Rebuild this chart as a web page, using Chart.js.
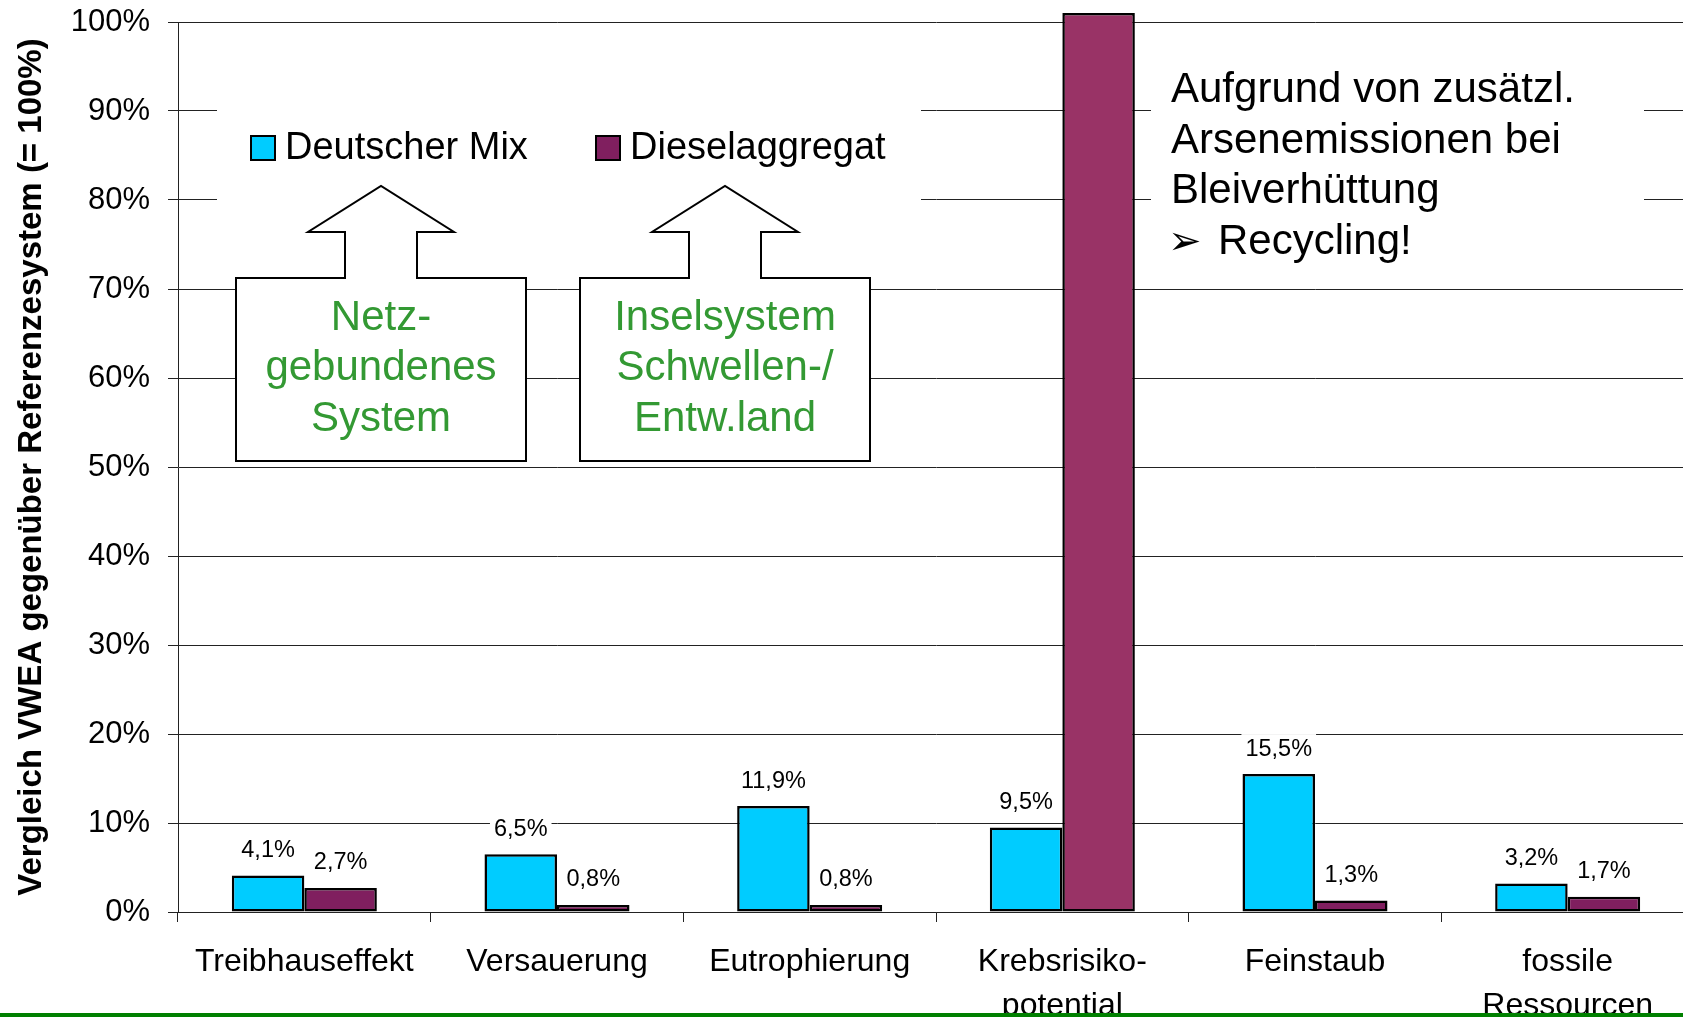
<!DOCTYPE html>
<html>
<head>
<meta charset="utf-8">
<script src="https://cdn.jsdelivr.net/npm/chart.js@4.4.1/dist/chart.umd.min.js"></script>
<style>
html, body { margin: 0; padding: 0; background: #fff; overflow: hidden; }
#wrap { width: 1694px; height: 1017px; }
</style>
</head>
<body>
<div id="wrap"><canvas id="vwea" width="1694" height="1017"></canvas></div>
<script>
// Daten
var kategorien = [['Treibhauseffekt'], ['Versauerung'], ['Eutrophierung'], ['Krebsrisiko-', 'potential'], ['Feinstaub'], ['fossile', 'Ressourcen']];
var deutscherMix = [4.1, 6.5, 11.9, 9.5, 15.5, 3.2];
var dieselaggregat = [2.7, 0.8, 0.8, 101, 1.3, 1.7];
var yTickStep = 10;
var yMax = 100;

var FONT = '"Liberation Sans", Arial, Helvetica, sans-serif';
var BLAU = '#00CCFF';
var LILA = '#801F5F';
var LILA_HELL = '#993366';

function prozent(v) {
	return v.toFixed(1).replace('.', ',') + '%';
}

// callout box with arrow pointing up to the legend
function pfeilBox(ctx, cx, zeilen) {
	var top = 278, bottom = 461, kopf = 232, spitze = 186;
	ctx.beginPath();
	ctx.moveTo(cx - 145, top);
	ctx.lineTo(cx - 36, top);
	ctx.lineTo(cx - 36, kopf);
	ctx.lineTo(cx - 73, kopf);
	ctx.lineTo(cx, spitze);
	ctx.lineTo(cx + 73, kopf);
	ctx.lineTo(cx + 36, kopf);
	ctx.lineTo(cx + 36, top);
	ctx.lineTo(cx + 145, top);
	ctx.lineTo(cx + 145, bottom);
	ctx.lineTo(cx - 145, bottom);
	ctx.closePath();
	ctx.fillStyle = '#fff';
	ctx.fill();
	ctx.lineWidth = 2;
	ctx.strokeStyle = '#000';
	ctx.stroke();
	ctx.fillStyle = '#339933';
	ctx.font = '42px ' + FONT;
	ctx.textAlign = 'center';
	ctx.textBaseline = 'middle';
	for (var i = 0; i < zeilen.length; i++) {
		ctx.fillText(zeilen[i], cx, 318 + i * 50.5);
	}
}

var extras = {
	id: 'extras',
	beforeDatasetsDraw: function(chart) {
		var ctx = chart.ctx;
		ctx.save();
		// white boxes behind legend and note
		ctx.fillStyle = '#fff';
		ctx.fillRect(217, 95, 704, 120);
		ctx.fillRect(1151, 40, 493, 230);

		// legend
		var lx = [251, 596];
		ctx.font = '38px ' + FONT;
		ctx.textAlign = 'left';
		ctx.textBaseline = 'middle';
		chart.data.datasets.forEach(function(ds, i) {
			ctx.fillStyle = ds.legendColor;
			ctx.fillRect(lx[i], 136, 24, 24);
			ctx.lineWidth = 2;
			ctx.strokeStyle = '#000';
			ctx.strokeRect(lx[i], 136, 24, 24);
			ctx.fillStyle = '#000';
			ctx.fillText(ds.label, lx[i] + 34, 149);
		});

		pfeilBox(ctx, 381, ['Netz-', 'gebundenes', 'System']);
		pfeilBox(ctx, 725, ['Inselsystem', 'Schwellen-/', 'Entw.land']);

		// note
		ctx.fillStyle = '#000';
		ctx.font = '42px ' + FONT;
		ctx.textAlign = 'left';
		ctx.textBaseline = 'middle';
		ctx.fillText('Aufgrund von zusätzl.', 1171, 90);
		ctx.fillText('Arsenemissionen bei', 1171, 141);
		ctx.fillText('Bleiverhüttung', 1171, 191);
		ctx.font = '40px "DejaVu Sans", ' + FONT;
		ctx.fillText('\u27A2', 1168, 244);
		ctx.font = '42px ' + FONT;
		ctx.fillText('Recycling!', 1218, 242);
		ctx.restore();
	},
	afterDatasetsDraw: function(chart) {
		var ctx = chart.ctx;
		ctx.save();
		ctx.font = '23.5px ' + FONT;
		ctx.textAlign = 'center';
		ctx.textBaseline = 'middle';
		chart.data.datasets.forEach(function(ds, di) {
			chart.getDatasetMeta(di).data.forEach(function(bar, i) {
				var v = ds.data[i];
				if (v > yMax) return;
				var t = prozent(v);
				var w = ctx.measureText(t).width;
				var cy = bar.y - 25;
				ctx.fillStyle = '#fff';
				ctx.fillRect(bar.x - w / 2 - 4, cy - 15, w + 8, 30);
				ctx.fillStyle = '#000';
				ctx.fillText(t, bar.x, cy);
			});
		});
		ctx.restore();
	},
	afterDraw: function(chart) {
		var ctx = chart.ctx;
		ctx.save();
		ctx.fillStyle = '#008000';
		ctx.fillRect(0, 1013, chart.width, 4);
		ctx.restore();
	}
};

var el = document.getElementById('vwea');
var chart = new Chart(el, {
	type: 'bar',
	data: {
		labels: kategorien,
		datasets: [{
			label: 'Deutscher Mix',
			data: deutscherMix,
			backgroundColor: BLAU,
			legendColor: BLAU,
			borderColor: '#000',
			borderWidth: 2.5,
			borderSkipped: false,
			categoryPercentage: 0.574,
			barPercentage: 1
		},
		{
			label: 'Dieselaggregat',
			data: dieselaggregat,
			backgroundColor: function(c) { return c.raw > yMax ? LILA_HELL : LILA; },
			legendColor: LILA,
			borderColor: '#000',
			borderWidth: 2.5,
			borderSkipped: false,
			categoryPercentage: 0.574,
			barPercentage: 1,
			clip: false
		}]
	},
	options: {
		responsive: false,
		animation: false,
		layout: { padding: { top: 22, left: 0, right: 0, bottom: 0 } },
		plugins: {
			legend: { display: false },
			tooltip: { enabled: false }
		},
		scales: {
			x: {
				ticks: {
					color: '#000',
					font: { family: FONT, size: 32, lineHeight: 1.375 },
					padding: 18,
					maxRotation: 0,
					autoSkip: false
				},
				grid: { drawOnChartArea: false, tickLength: 10, color: '#222', offset: true },
				border: { color: '#222' },
				afterFit: function(s) { s.height = 105; }
			},
			y: {
				min: 0,
				max: yMax,
				ticks: {
					stepSize: yTickStep,
					color: '#000',
					font: { family: FONT, size: 31 },
					padding: 18,
					callback: function(v) { return v + '%'; }
				},
				grid: { color: '#222', lineWidth: 1, tickLength: 10 },
				border: { color: '#222' },
				title: {
					display: true,
					text: 'Vergleich VWEA gegenüber Referenzesystem (= 100%)',
					color: '#000',
					font: { family: FONT, size: 33, weight: 'bold' },
					padding: { top: 12, bottom: 0 }
				},
				afterFit: function(s) {
					s.width = 178;
					s.paddingTop = 0;
					s.paddingBottom = 0;
				}
			}
		}
	},
	plugins: [extras]
});
</script>
</body>
</html>
